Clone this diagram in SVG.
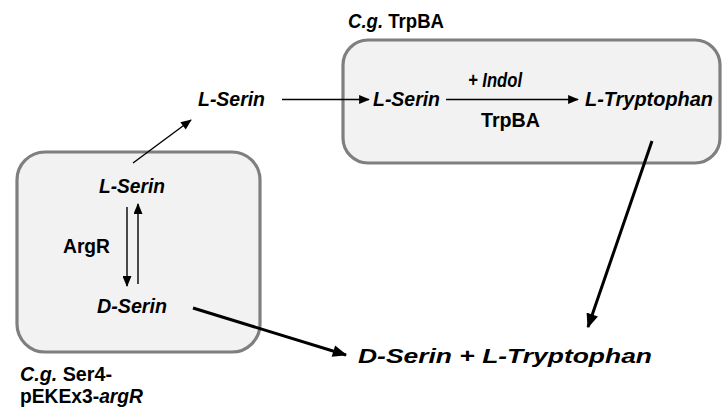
<svg xmlns="http://www.w3.org/2000/svg" width="723" height="410" viewBox="0 0 723 410">
  <defs>
    <style>
      .t { font-family: "Liberation Sans", Arial, sans-serif; font-weight: bold; fill: #000; font-size: 19.5px; }
      .i { font-style: italic; }
      .box { fill: #f2f2f2; stroke: #7f7f7f; stroke-width: 3.2; }
      .thin { stroke: #000; stroke-width: 1.4; fill: none; }
      .thick { stroke: #000; stroke-width: 3; fill: none; }
    </style>
    <marker id="ah" viewBox="0 0 12 10" refX="11" refY="5" markerWidth="12" markerHeight="9" markerUnits="userSpaceOnUse" orient="auto">
      <path d="M0,0 L12,5 L0,10 Z" fill="#000"/>
    </marker>
    <marker id="ahb" viewBox="0 0 12 10" refX="11" refY="5" markerWidth="15" markerHeight="12" markerUnits="userSpaceOnUse" orient="auto">
      <path d="M0,0 L12,5 L0,10 Z" fill="#000"/>
    </marker>
  </defs>

  <!-- Ser4 strain compartment -->
  <g id="strain-ser4">
    <rect class="box" x="17" y="152" width="243" height="200" rx="28"/>
    <text class="t i" x="99" y="193" textLength="66" lengthAdjust="spacingAndGlyphs">L-Serin</text>
    <text class="t" x="63" y="253" textLength="47" lengthAdjust="spacingAndGlyphs">ArgR</text>
    <text class="t i" x="97" y="313" textLength="70" lengthAdjust="spacingAndGlyphs">D-Serin</text>
    <text class="t" x="20" y="381" textLength="92" lengthAdjust="spacingAndGlyphs"><tspan class="i">C.g.</tspan> Ser4-</text>
    <text class="t" x="20" y="403" textLength="123" lengthAdjust="spacingAndGlyphs">pEKEx3-<tspan class="i">argR</tspan></text>
  </g>

  <!-- TrpBA strain compartment -->
  <g id="strain-trpba">
    <rect class="box" x="343" y="40" width="377" height="123" rx="25"/>
    <text class="t" x="348" y="28" textLength="96" lengthAdjust="spacingAndGlyphs"><tspan class="i">C.g.</tspan> TrpBA</text>
    <text class="t i" x="373" y="106" textLength="67" lengthAdjust="spacingAndGlyphs">L-Serin</text>
    <text class="t i" x="468" y="87" font-size="15.5" textLength="54" lengthAdjust="spacingAndGlyphs">+ Indol</text>
    <text class="t" x="481" y="127" textLength="59" lengthAdjust="spacingAndGlyphs">TrpBA</text>
    <text class="t i" x="585" y="106" textLength="128" lengthAdjust="spacingAndGlyphs">L-Tryptophan</text>
  </g>

  <!-- exported serine -->
  <g id="serin-export">
    <text class="t i" x="198" y="106" textLength="67" lengthAdjust="spacingAndGlyphs">L-Serin</text>
  </g>

  <!-- final products -->
  <g id="products">
    <text class="t i" x="358" y="363" font-size="27" textLength="294" lengthAdjust="spacingAndGlyphs">D-Serin + L-Tryptophan</text>
  </g>

  <g id="connectors">
    <line class="thin" x1="133" y1="163" x2="191" y2="120" marker-end="url(#ah)"/>
    <line class="thin" x1="127" y1="207" x2="127" y2="286" marker-end="url(#ah)"/>
    <line class="thin" x1="138" y1="284" x2="138" y2="204" marker-end="url(#ah)"/>
    <line class="thin" x1="282" y1="99.5" x2="369" y2="99.5" marker-end="url(#ah)"/>
    <line class="thin" x1="446" y1="99.5" x2="578" y2="99.5" marker-end="url(#ah)"/>
    <line class="thick" x1="193" y1="308" x2="346" y2="355" marker-end="url(#ahb)"/>
    <line class="thick" x1="652" y1="141" x2="588" y2="327" marker-end="url(#ahb)"/>
  </g>
</svg>
